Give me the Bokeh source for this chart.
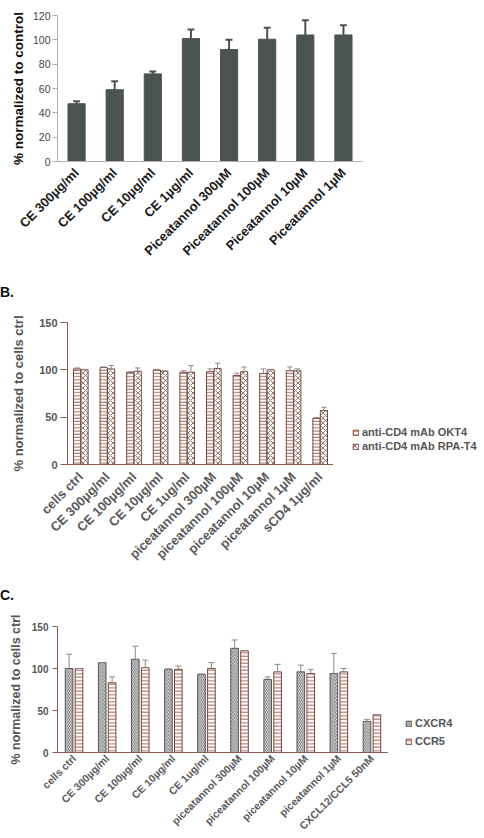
import math
from bokeh.plotting import figure
from bokeh.models import (FactorRange, Range1d, FixedTicker, ColumnDataSource,
                          Legend, LegendItem, Div)
from bokeh.transform import dodge
from bokeh.layouts import column, row
from bokeh.embed import file_html
from bokeh.resources import INLINE

FONT = "Liberation Sans"

# ---------------- Panel A data ----------------
cats_a = ["CE 300µg/ml", "CE 100µg/ml", "CE 10µg/ml", "CE 1µg/ml",
          "Piceatannol 300µM", "Piceatannol 100µM", "Piceatannol 10µM", "Piceatannol 1µM"]
vals_a = [47.5, 59, 72, 101, 92, 100.5, 104, 104]
err_a = [2, 7, 2, 7.5, 8, 9.5, 12, 8]
ticks_a = [0, 20, 40, 60, 80, 100, 120]

# ---------------- Panel B data ----------------
cats_b = ["cells ctrl", "CE 300µg/ml", "CE 100µg/ml", "CE 10µg/ml", "CE 1ug/ml",
          "piceatannol 300µM", "piceatannol 100µM", "piceatannol 10µM",
          "piceatannol 1µM", "sCD4 1µg/ml"]
okt4 = [101, 102.5, 97.5, 100, 97.5, 98, 94, 96, 99, 49]
okt4_err = [1, 0.5, 0.5, 0.5, 1.5, 3, 2.5, 5, 4, 0.5]
rpa = [100, 101, 98.5, 98.5, 97.5, 101.5, 98, 100, 99, 57]
rpa_err = [0.5, 3.5, 3.5, 0.5, 7, 5.5, 5, 0.5, 2, 3.5]
series_b = ["anti-CD4 mAb OKT4", "anti-CD4 mAb RPA-T4"]
ticks_bc = [0, 50, 100, 150]

# ---------------- Panel C data ----------------
cats_c = ["cells ctrl", "CE 300µg/ml", "CE 100µg/ml", "CE 10µg/ml", "CE 1ug/ml",
          "piceatannol 300µM", "piceatannol 100µM", "piceatannol 10µM",
          "piceatannol 1µM", "CXCL12/CCL5 50nM"]
cxcr4 = [100, 107, 111, 99, 93, 124, 87, 96, 94, 37]
cxcr4_err = [17, 0, 15.5, 0.5, 0.5, 10, 3, 8, 24, 2.5]
ccr5 = [100, 83, 101, 99, 100, 121, 96, 94, 96, 45]
ccr5_err = [0, 7, 9, 4, 7, 0.5, 9, 5, 4, 0]
series_c = ["CXCR4", "CCR5"]

AX_BROWN = "#8a5a4e"
STYLE_OKT4 = dict(fill_color="white", line_color="#7a4438", line_width=1,
                  hatch_pattern="horizontal_line", hatch_color="#a0645a",
                  hatch_scale=3.2, hatch_weight=1)
STYLE_RPA = dict(fill_color="white", line_color="#6e4c44", line_width=1,
                 hatch_pattern="diagonal_cross", hatch_color="#8a6a62",
                 hatch_scale=5, hatch_weight=0.9)
STYLE_CXCR4 = dict(fill_color="white", line_color="#555555", line_width=1,
                   hatch_pattern="left_diagonal_line", hatch_color="#6a6a6a",
                   hatch_scale=3.5, hatch_weight=0.9)
STYLE_CCR5 = dict(fill_color="white", line_color="#7a4438", line_width=1,
                  hatch_pattern="horizontal_line", hatch_color="#a0645a",
                  hatch_scale=3.5, hatch_weight=1)


def base_fig(cats, w, h, mbl, mbr, mbt, mbb, ymax, ticks):
    p = figure(x_range=FactorRange(factors=cats), y_range=Range1d(0, ymax),
               width=w, height=h, output_backend="svg", toolbar_location=None,
               min_border_left=mbl, min_border_right=mbr,
               min_border_top=mbt, min_border_bottom=mbb)
    p.outline_line_color = None
    p.grid.visible = False
    p.yaxis.ticker = FixedTicker(ticks=ticks)
    p.yaxis.minor_tick_line_color = None
    p.yaxis.major_tick_in = 0
    p.xaxis.major_tick_line_color = None
    p.xaxis.major_tick_in = 0
    p.xaxis.major_tick_out = 0
    p.xaxis.major_label_orientation = math.pi / 4
    for ax in (p.xaxis[0], p.yaxis[0]):
        ax.major_label_text_font = FONT
        ax.axis_label_text_font = FONT
    return p


def err_bars(p, src, xfield, off, half, color, width):
    p.segment(x0=dodge(xfield, off, range=p.x_range), y0="top",
              x1=dodge(xfield, off, range=p.x_range), y1="upper",
              source=src, line_color=color, line_width=width)
    p.segment(x0=dodge(xfield, off - half, range=p.x_range), y0="upper",
              x1=dodge(xfield, off + half, range=p.x_range), y1="upper",
              source=src, line_color=color, line_width=width)


def header(text, h, pad):
    return Div(text=f'<div style="padding-top:{pad}px;line-height:16px">{text}</div>',
               width=484, height=h, margin=(0, 0, 0, 0),
               styles={"font-family": FONT, "font-size": "14px",
                       "font-weight": "bold", "color": "#111111"})


def legend_fig(cats, w, h, ymax, labels, styles, sources, loc, spacing):
    p = figure(width=w, height=h, x_range=FactorRange(factors=cats),
               y_range=Range1d(0, ymax), output_backend="svg", toolbar_location=None,
               x_axis_location=None, y_axis_location=None,
               min_border_left=0, min_border_right=0, min_border_top=0, min_border_bottom=0)
    p.outline_line_color = None
    p.grid.visible = False
    items = []
    for lab, st, src in zip(labels, styles, sources):
        r = p.vbar(x="cat", top="top", width=0.3, source=src, visible=False, **st)
        items.append(LegendItem(label=lab, renderers=[r]))
    leg = Legend(items=items, location=loc, orientation="vertical",
                 glyph_width=7, glyph_height=7, label_height=10, label_standoff=3,
                 spacing=spacing, padding=0, margin=0, border_line_color=None,
                 background_fill_alpha=0,
                 label_text_font=FONT, label_text_font_size="11px",
                 label_text_font_style="bold", label_text_color="#555555")
    p.add_layout(leg)
    return p


# ================= Panel A =================
pa = base_fig(cats_a, 484, 270, 57, 122, 15, 109, 120, ticks_a)
src_a = ColumnDataSource(dict(cat=cats_a, top=vals_a,
                              upper=[v + e for v, e in zip(vals_a, err_a)]))
pa.vbar(x="cat", top="top", width=0.45, source=src_a,
        fill_color="#4a5351", line_color="#4a5351")
err_bars(pa, src_a, "cat", 0.0, 0.09, "#4a5351", 2)
pa.yaxis.axis_label = "% normalized to control"
pa.yaxis.axis_label_text_font_size = "13.5px"
pa.yaxis.axis_label_text_font_style = "bold"
pa.yaxis.axis_label_text_color = "#111111"
pa.yaxis.axis_label_standoff = 4
pa.yaxis.major_label_text_font_size = "10.5px"
pa.yaxis.major_label_text_color = "#444444"
pa.yaxis.major_label_standoff = 2
pa.yaxis.major_tick_out = 5
pa.yaxis.axis_line_color = "#b0b0b0"
pa.yaxis.major_tick_line_color = "#b0b0b0"
pa.xaxis.axis_line_color = "#b0b0b0"
pa.xaxis.major_label_text_font_size = "13px"
pa.xaxis.major_label_text_font_style = "bold"
pa.xaxis.major_label_text_color = "#1a1a1a"
pa.xaxis.major_label_standoff = 9

# ================= Panel B =================
hb = header("B.", 40, 14)
pb = base_fig(cats_b, 333, 268, 67, 0, 12, 114, 150, ticks_bc)
src_b1 = ColumnDataSource(dict(cat=cats_b, top=okt4,
                               upper=[v + e for v, e in zip(okt4, okt4_err)]))
src_b2 = ColumnDataSource(dict(cat=cats_b, top=rpa,
                               upper=[v + e for v, e in zip(rpa, rpa_err)]))
pb.vbar(x=dodge("cat", -0.14, range=pb.x_range), top="top", width=0.27,
        source=src_b1, **STYLE_OKT4)
pb.vbar(x=dodge("cat", 0.14, range=pb.x_range), top="top", width=0.27,
        source=src_b2, **STYLE_RPA)
err_bars(pb, src_b1, "cat", -0.14, 0.1, "#8a8a8a", 1)
err_bars(pb, src_b2, "cat", 0.14, 0.1, "#8a8a8a", 1)
pb.yaxis.axis_label = "% normalized to cells ctrl"
pb.yaxis.axis_label_text_font_size = "13px"
pb.yaxis.axis_label_text_font_style = "bold"
pb.yaxis.axis_label_text_color = "#555555"
pb.yaxis.axis_label_standoff = 10
pb.yaxis.major_label_text_font_size = "11px"
pb.yaxis.major_label_text_font_style = "bold"
pb.yaxis.major_label_text_color = "#555555"
pb.yaxis.major_label_standoff = 3
pb.yaxis.major_tick_out = 7
pb.yaxis.axis_line_color = AX_BROWN
pb.yaxis.major_tick_line_color = AX_BROWN
pb.xaxis.axis_line_color = AX_BROWN
pb.xaxis.major_label_text_font_size = "13px"
pb.xaxis.major_label_text_font_style = "bold"
pb.xaxis.major_label_text_color = "#5a5a5a"
pb.xaxis.major_label_standoff = 10
lb = legend_fig(cats_b, 151, 268, 150, series_b, [STYLE_OKT4, STYLE_RPA],
                [src_b1, src_b2], (19, 12), 2)

# ================= Panel C =================
hc = header("C.", 30, 9)
pc = base_fig(cats_c, 388, 230, 57, 0, 18, 83, 150, ticks_bc)
src_c1 = ColumnDataSource(dict(cat=cats_c, top=cxcr4,
                               upper=[v + e for v, e in zip(cxcr4, cxcr4_err)]))
src_c2 = ColumnDataSource(dict(cat=cats_c, top=ccr5,
                               upper=[v + e for v, e in zip(ccr5, ccr5_err)]))
pc.vbar(x=dodge("cat", -0.15, range=pc.x_range), top="top", width=0.23,
        source=src_c1, **STYLE_CXCR4)
pc.vbar(x=dodge("cat", 0.15, range=pc.x_range), top="top", width=0.23,
        source=src_c2, **STYLE_CCR5)
err_bars(pc, src_c1, "cat", -0.15, 0.09, "#8a8a8a", 1)
err_bars(pc, src_c2, "cat", 0.15, 0.09, "#8a8a8a", 1)
pc.yaxis.axis_label = "% normalized to cells ctrl"
pc.yaxis.axis_label_text_font_size = "12.5px"
pc.yaxis.axis_label_text_font_style = "bold"
pc.yaxis.axis_label_text_color = "#555555"
pc.yaxis.axis_label_standoff = 6
pc.yaxis.major_label_text_font_size = "10px"
pc.yaxis.major_label_text_font_style = "bold"
pc.yaxis.major_label_text_color = "#555555"
pc.yaxis.major_label_standoff = 4
pc.yaxis.major_tick_out = 5
pc.yaxis.axis_line_color = AX_BROWN
pc.yaxis.major_tick_line_color = AX_BROWN
pc.xaxis.axis_line_color = AX_BROWN
pc.xaxis.major_label_text_font_size = "10.5px"
pc.xaxis.major_label_text_font_style = "bold"
pc.xaxis.major_label_text_color = "#5a5a5a"
pc.xaxis.major_label_standoff = 4
lc = legend_fig(cats_c, 96, 230, 150, series_c, [STYLE_CXCR4, STYLE_CCR5],
                [src_c1, src_c2], (17, 5), 6)

layout = column(pa, hb, row(pb, lb, spacing=0), hc, row(pc, lc, spacing=0), spacing=0)
open("out.html", "w").write(file_html(layout, INLINE))
